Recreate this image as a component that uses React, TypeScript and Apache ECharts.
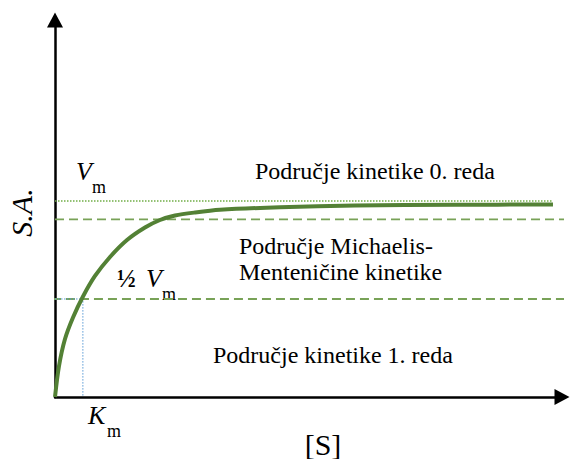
import React, { useEffect, useRef } from "react";
import * as echarts from "echarts";

// substrate concentration [S] (arbitrary units) and reaction rate (S.A.)
const sConc = [0, 0.79, 1.97, 3.55, 5.52, 7.89, 10.85, 14.2, 17.75, 20.71, 23.67, 27.61, 32.54, 44.38, 59.17, 78.9, 98.22];
const rate = [0, 8.22, 15.38, 21.09, 26.66, 32.1, 37.14, 41.64, 44.96, 46.95, 48.14, 48.94, 49.65, 50.32, 50.77, 50.98, 51.06];
const vmax = 52;
const halfVmax = 26;
const km = 5.5;
const mmUpper = 47.1;
const xMax = 100;
const yMax = 100;

const SERIF = "'Liberation Serif', 'Times New Roman', serif";

export default function App() {
  const ref = useRef<HTMLDivElement>(null);
  useEffect(() => {
    if (!ref.current) return;
    const chart = echarts.init(ref.current, null, { renderer: "svg" });
    const curve = sConc.map((s, i) => [s, rate[i]]);
    const txt = (
      text: string,
      x: number,
      y: number,
      size: number,
      opts: any = {}
    ) => ({
      type: "text",
      x,
      y,
      style: {
        text,
        fontSize: size,
        fontFamily: SERIF,
        fill: "#000",
        align: opts.align || "left",
        verticalAlign: "middle",
        fontStyle: opts.italic ? "italic" : "normal",
        fontWeight: opts.bold ? "bold" : "normal",
      },
    });
    chart.setOption({
      animation: false,
      backgroundColor: "#fff",
      grid: { left: 55, right: 9, top: 20, bottom: 62, outerBoundsMode: "none", containLabel: false },
      xAxis: {
        type: "value",
        min: 0,
        max: xMax,
        axisLine: {
          lineStyle: { color: "#000", width: 2.5 },
          symbol: ["none", "triangle"],
          symbolSize: [16, 15],
        },
        axisTick: { show: false },
        axisLabel: { show: false },
        splitLine: { show: false },
      },
      yAxis: {
        type: "value",
        min: 0,
        max: yMax,
        name: "S.A.",
        nameLocation: "middle",
        nameGap: 19,
        nameRotate: 90,
        nameTextStyle: {
          fontFamily: SERIF,
          fontStyle: "italic",
          fontSize: 30,
          color: "#000",
          padding: [0, 8, 0, 0],
        },
        axisLine: {
          lineStyle: { color: "#000", width: 2.5 },
          symbol: ["none", "triangle"],
          symbolSize: [16, 15],
        },
        axisTick: { show: false },
        axisLabel: { show: false },
        splitLine: { show: false },
      },
      series: [
        {
          type: "line",
          data: [[-0.6, halfVmax], [102, halfVmax]],
          symbol: "none",
          clip: false,
          lineStyle: { color: "#78a257", width: 1.8, type: [9, 5] },
        },
        {
          type: "line",
          data: [[0, mmUpper], [102, mmUpper]],
          symbol: "none",
          clip: false,
          lineStyle: { color: "#78a257", width: 1.8, type: [9, 5] },
        },
        {
          type: "line",
          data: [[0, vmax], [sConc[sConc.length - 1], vmax]],
          symbol: "none",
          lineStyle: { color: "#70AD47", width: 1.5, type: [1.5, 1.5] },
        },
        {
          type: "line",
          data: [[0, halfVmax], [km, halfVmax], [km, 0]],
          symbol: "none",
          lineStyle: { color: "#5B9BD5", width: 1, type: [1.5, 1.5] },
        },
        {
          type: "line",
          data: curve,
          symbol: "none",
          smooth: 0.3,
          z: 5,
          lineStyle: { color: "#538135", width: 4 },
        },
      ],
      graphic: [
        txt("V", 76, 171, 26, { italic: true }),
        txt("m", 92, 187, 18),
        txt("½", 117, 278, 25, { bold: true }),
        txt("V", 146, 278, 26, { italic: true }),
        txt("m", 162, 294, 18),
        txt("K", 88, 415, 26, { italic: true }),
        txt("m", 107, 431, 18),
        txt("[S]", 323, 444, 30, { align: "center" }),
        txt("Područje kinetike 0. reda", 255, 171, 24),
        txt("Područje Michaelis-", 239, 246, 24),
        txt("Menteničine kinetike", 239, 272, 24),
        txt("Područje kinetike 1. reda", 213, 355, 24),
      ],
    });
    return () => chart.dispose();
  }, []);
  return (
    <div
      ref={ref}
      style={{ position: "absolute", left: 0, top: 0, width: 571, height: 459 }}
    />
  );
}
